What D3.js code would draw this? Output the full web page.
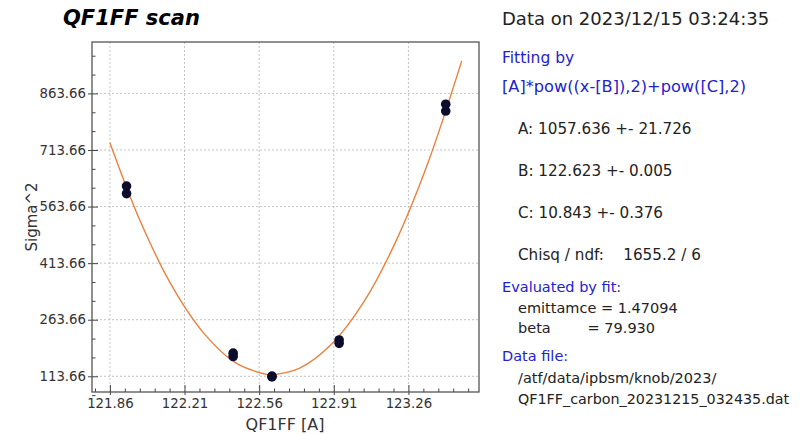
<!DOCTYPE html>
<html>
  <head>
    <style>
      body { margin: 0; background: #fff; }
      svg text { font-family: "DejaVu Sans", sans-serif; }
    </style>
  </head>
  <body>
    <svg id="chart" width="806" height="434"></svg>

    <script src="https://d3js.org/d3.v7.min.js"></script>
    <script>
      // measured points (current [A], sigma^2), two shots per setting
      var scanX = [121.938, 121.938, 122.438, 122.438, 122.62, 122.62, 122.935, 122.935, 123.435, 123.435];
      var scanY = [618, 598, 175, 166, 114, 112, 210, 201, 835, 817];

      // fit curve
      var fitX = [121.86, 122.0, 122.15, 122.3, 122.45, 122.6, 122.623, 122.75, 122.9, 123.05, 123.2, 123.35, 123.51];
      var fitY = [733, 528, 354, 228, 149, 118, 117.6, 135, 199, 310, 470, 677, 950];

      var xTicks = [121.86, 122.21, 122.56, 122.91, 123.26];
      var yTicks = [113.66, 263.66, 413.66, 563.66, 713.66, 863.66];

      var infoLines = [
        { t: "Data on 2023/12/15 03:24:35", x: 502, y: 25, size: 18, c: "#222" },
        { t: "Fitting by", x: 502, y: 63, size: 15.5, c: "#2222cc" },
        { t: "[A]*pow((x-[B]),2)+pow([C],2)", x: 502, y: 92, size: 16.2, c: "#2222cc" },
        { t: "A: 1057.636 +- 21.726", x: 518, y: 134, size: 15.2, c: "#222" },
        { t: "B: 122.623 +- 0.005", x: 518, y: 176, size: 15.2, c: "#222" },
        { t: "C: 10.843 +- 0.376", x: 518, y: 218, size: 15.2, c: "#222" },
        { t: "Chisq / ndf:    1655.2 / 6", x: 518, y: 260, size: 15.2, c: "#222" },
        { t: "Evaluated by fit:", x: 502, y: 292, size: 14.5, c: "#2222cc" },
        { t: "emittamce = 1.47094", x: 518, y: 313, size: 14.5, c: "#222" },
        { t: "beta        = 79.930", x: 518, y: 333, size: 14.5, c: "#222" },
        { t: "Data file:", x: 502, y: 361, size: 14.5, c: "#2222cc" },
        { t: "/atf/data/ipbsm/knob/2023/", x: 518, y: 383, size: 14.5, c: "#222" },
        { t: "QF1FF_carbon_20231215_032435.dat", x: 518, y: 404, size: 14.3, c: "#222" }
      ];

      var padL = 92, padT = 42, padR = 479, padB = 392;

      var x = d3.scaleLinear().domain([121.776, 123.591]).range([padL, padR]);
      var y = d3.scaleLinear().domain([72, 1000]).range([padB, padT]);

      var svg = d3.select("#chart");

      svg.append("text")
        .attr("x", 63).attr("y", 25)
        .style("font-size", "21px")
        .style("font-weight", "bold")
        .style("font-style", "italic")
        .text("QF1FF scan");

      // grid
      var grid = svg.append("g").attr("stroke", "#c4c4c4").attr("stroke-dasharray", "2,2").attr("stroke-width", 1);
      grid.selectAll(".gx").data(xTicks).enter().append("line")
        .attr("x1", function (d) { return x(d); }).attr("x2", function (d) { return x(d); })
        .attr("y1", padT).attr("y2", padB);
      grid.selectAll(".gy").data(yTicks).enter().append("line")
        .attr("y1", function (d) { return y(d); }).attr("y2", function (d) { return y(d); })
        .attr("x1", padL).attr("x2", padR);

      // minor ticks
      var xMinor = d3.range(121.79, 123.591, 0.07).filter(function (v) {
        return !xTicks.some(function (t) { return Math.abs(t - v) < 1e-6; });
      });
      var yMinor = d3.range(113.66 - 50, 1000, 50).filter(function (v) {
        return !yTicks.some(function (t) { return Math.abs(t - v) < 1e-6; });
      });

      svg.append("g").attr("transform", "translate(0," + padB + ")")
        .call(d3.axisBottom(x).tickValues(xTicks).tickSizeInner(-7).tickSizeOuter(0).tickPadding(7)
          .tickFormat(d3.format(".2f")))
        .selectAll(".tick line").attr("y2", -7).attr("y1", 3);
      svg.append("g").attr("transform", "translate(0," + padB + ")")
        .call(d3.axisBottom(x).tickValues(xMinor).tickSizeInner(-3.5).tickSizeOuter(0).tickFormat(""));

      svg.append("g").attr("transform", "translate(" + padL + ",0)")
        .call(d3.axisLeft(y).tickValues(yTicks).tickSizeInner(-7).tickSizeOuter(0).tickPadding(6)
          .tickFormat(d3.format(".2f")))
        .selectAll(".tick line").attr("x2", 6).attr("x1", -4);
      svg.append("g").attr("transform", "translate(" + padL + ",0)")
        .call(d3.axisLeft(y).tickValues(yMinor).tickSizeInner(-3.5).tickSizeOuter(0).tickFormat(""));

      svg.selectAll(".tick line").attr("stroke", "#444");
      svg.selectAll(".tick text").attr("fill", "#333").style("font-size", "13.3px");
      svg.selectAll(".domain").remove();

      // frame
      svg.append("rect")
        .attr("x", padL).attr("y", padT)
        .attr("width", padR - padL).attr("height", padB - padT)
        .attr("fill", "none").attr("stroke", "#555").attr("stroke-width", 1.3);

      // fit curve
      var fit = fitX.map(function (v, i) { return [v, fitY[i]]; });
      svg.append("path")
        .datum(fit)
        .attr("fill", "none")
        .attr("stroke", "#e8823e")
        .attr("stroke-width", 1.4)
        .attr("d", d3.line()
          .x(function (d) { return x(d[0]); })
          .y(function (d) { return y(d[1]); })
          .curve(d3.curveCatmullRom));

      // points
      svg.append("g").selectAll("circle")
        .data(scanX)
        .enter().append("circle")
        .attr("cx", function (d) { return x(d); })
        .attr("cy", function (d, i) { return y(scanY[i]); })
        .attr("r", 4.8)
        .attr("fill", "#0c0c2c");

      // axis titles
      svg.append("text")
        .attr("x", 285).attr("y", 430)
        .attr("text-anchor", "middle")
        .style("font-size", "16px").attr("fill", "#333")
        .text("QF1FF [A]");
      svg.append("text")
        .attr("transform", "translate(37,217) rotate(-90)")
        .attr("text-anchor", "middle")
        .style("font-size", "15px").attr("fill", "#333")
        .text("Sigma^2");

      // fit info
      svg.append("g").selectAll("text")
        .data(infoLines)
        .enter().append("text")
        .attr("x", function (d) { return d.x; })
        .attr("y", function (d) { return d.y; })
        .attr("fill", function (d) { return d.c; })
        .style("font-size", function (d) { return d.size + "px"; })
        .style("white-space", "pre")
        .text(function (d) { return d.t; });
    </script>
  </body>
</html>
